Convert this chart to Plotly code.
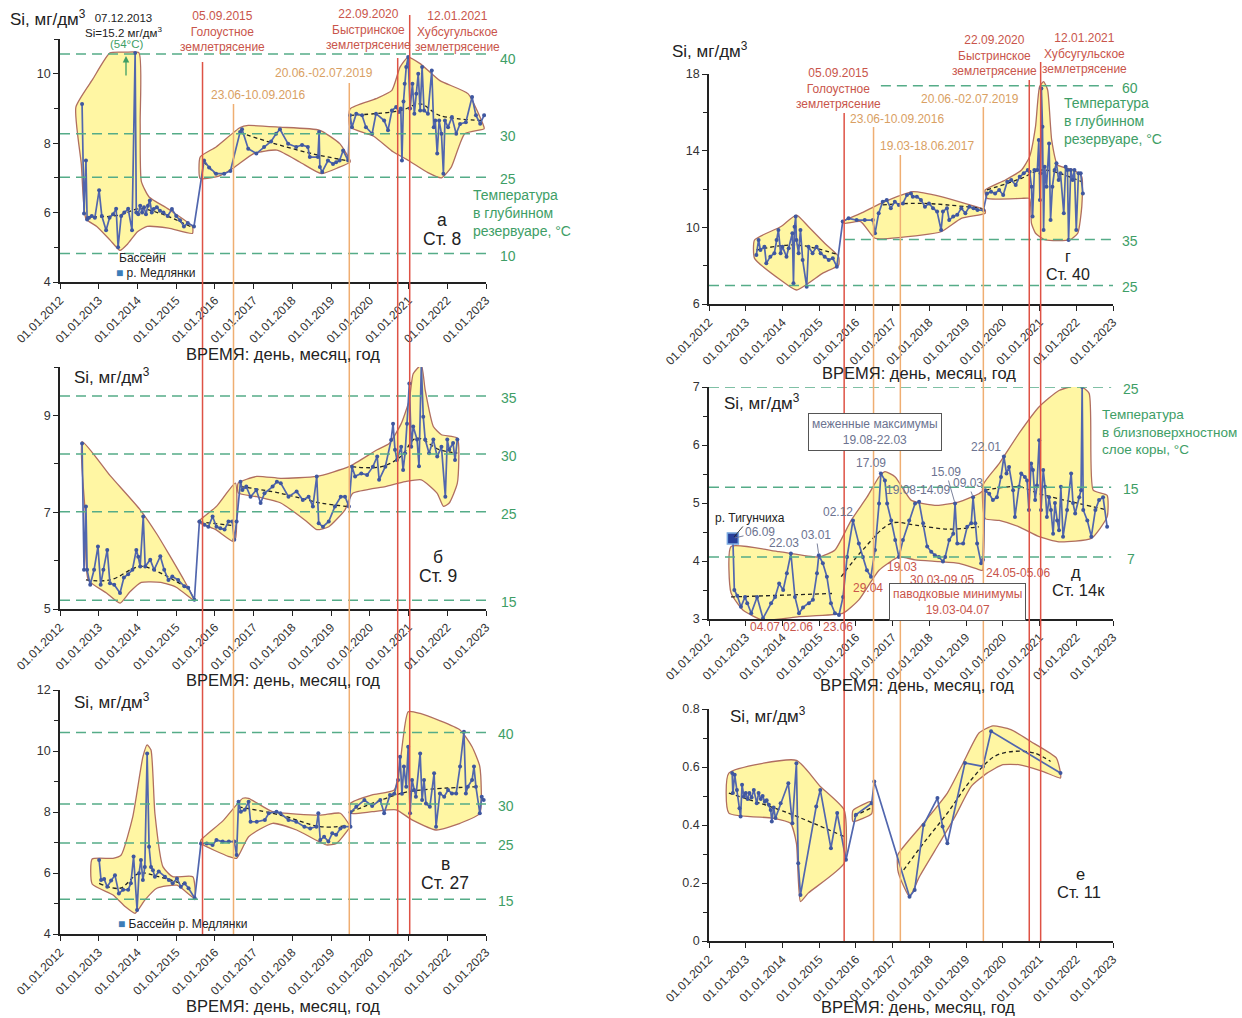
import plotly.graph_objects as go

W, H = 1242, 1018

# ---------------- common axis data ----------------
YEARS = list(range(2012, 2024))
YEAR_LABELS = [f"01.01.{y}" for y in YEARS]

# event dates (decimal years): 05.09.2015, 23.06.2016, 19.03.2017, 20.06.2019, 22.09.2020, 12.01.2021
EVENT_T = [2015.68, 2016.48, 2017.21, 2019.47, 2020.72, 2021.03]
EVENT_KIND = ["quake", "season", "season", "season", "quake", "quake"]

# ---------------- panel а (Ст. 8) ----------------
A1_T = [2012.57, 2012.62, 2012.67, 2012.70, 2012.75, 2012.82, 2012.9, 2013.01, 2013.08, 2013.19,
        2013.28, 2013.37, 2013.45, 2013.50, 2013.58, 2013.66, 2013.76, 2013.86, 2013.94, 2013.97,
        2014.02, 2014.07, 2014.12, 2014.17, 2014.22, 2014.27, 2014.32, 2014.37, 2014.42, 2014.5,
        2014.58, 2014.67, 2014.78, 2014.89, 2015.0, 2015.1, 2015.2, 2015.3, 2015.46]
A1_SI = [9.13, 5.97, 7.5, 5.8, 5.85, 5.9, 5.85, 6.64, 5.9, 5.49,
         5.85, 5.95, 6.11, 5.0, 5.9, 6.0, 6.11, 5.49, 10.6, 6.0,
         5.95, 6.2, 6.0, 6.15, 5.95, 6.2, 6.35, 6.0, 6.1, 6.15,
         6.05, 6.0, 5.9, 6.1, 5.9, 5.78, 5.6, 5.7, 5.6]
A2_T = [2015.72, 2015.85, 2016.03, 2016.24, 2016.4, 2016.65, 2016.7, 2016.86, 2017.07, 2017.27,
        2017.45, 2017.58, 2017.68, 2017.89, 2018.1, 2018.25, 2018.4, 2018.45, 2018.66, 2018.69,
        2018.71, 2018.77, 2018.92, 2019.05, 2019.13, 2019.22, 2019.31, 2019.44]
A2_SI = [7.5, 7.3, 7.12, 7.12, 7.2, 8.32, 8.4, 7.84, 7.7, 7.89,
         8.05, 8.27, 8.4, 7.98, 7.89, 7.95, 7.89, 7.6, 7.6, 8.32,
         7.31, 7.17, 7.5, 7.4, 7.45, 7.5, 7.79, 7.5]
A3_T = [2019.49, 2019.54, 2019.65, 2019.8, 2019.9, 2020.06, 2020.16, 2020.37, 2020.47, 2020.57,
        2020.68, 2020.75, 2020.8, 2020.83, 2020.87, 2020.9, 2020.94, 2020.99, 2021.04, 2021.1,
        2021.15, 2021.2, 2021.25, 2021.3, 2021.35, 2021.4, 2021.5, 2021.6, 2021.65, 2021.69,
        2021.74, 2021.79, 2021.85, 2021.9, 2021.94, 2022.02, 2022.12, 2022.23, 2022.33, 2022.48,
        2022.64, 2022.74, 2022.85, 2022.95]
A3_SI = [8.8, 8.46, 8.85, 8.8, 8.46, 8.27, 8.85, 8.65, 8.37, 8.94,
         9.04, 8.9, 9.0, 7.5, 9.2, 9.71, 10.19, 10.48, 9.0, 9.71,
         8.85, 9.42, 10.0, 8.94, 10.19, 8.94, 8.85, 10.09, 8.46, 8.65,
         7.7, 8.65, 8.27, 7.12, 8.65, 8.46, 8.75, 8.27, 8.55, 8.6,
         9.33, 8.8, 8.56, 8.8]
A_ENV = [
    ([2012.41, 2012.85, 2013.29, 2013.7, 2014.04, 2014.07, 2014.1, 2014.3, 2014.8, 2015.42],
     [9.04, 9.85, 10.6, 10.62, 10.6, 8.6, 6.9, 6.45, 6.1, 5.6],
     [2015.42, 2014.8, 2014.25, 2014.0, 2013.75, 2013.55, 2013.3, 2012.95, 2012.67, 2012.55],
     [5.4, 5.55, 5.6, 5.45, 5.1, 4.91, 5.2, 5.6, 5.82, 7.4]),
    ([2015.62, 2016.03, 2016.65, 2016.86, 2017.68, 2018.71, 2019.23, 2019.49],
     [7.6, 7.89, 8.45, 8.51, 8.46, 8.37, 7.98, 7.5],
     [2019.49, 2019.2, 2018.75, 2018.2, 2017.6, 2017.0, 2016.5, 2016.1, 2015.62],
     [7.45, 7.3, 7.12, 7.45, 7.8, 7.7, 7.3, 7.05, 6.98]),
    ([2019.49, 2020.16, 2020.57, 2020.78, 2020.99, 2021.3, 2021.81, 2022.54, 2022.95],
     [8.99, 9.28, 9.52, 10.19, 10.48, 10.29, 9.8, 9.42, 8.46],
     [2022.95, 2022.45, 2022.1, 2021.85, 2021.5, 2021.0, 2020.6, 2020.1, 2019.49],
     [8.41, 8.27, 7.3, 7.0, 7.15, 7.5, 7.75, 8.2, 8.46]),
]
A_TREND = [
    ([2012.67, 2013.5, 2014.05, 2014.6, 2015.4], [5.87, 5.92, 6.11, 5.97, 5.58]),
    ([2015.72, 2016.0], [7.45, 7.12]),
    ([2016.65, 2017.5, 2018.5, 2019.4], [8.3, 8.0, 7.7, 7.5]),
    ([2019.49, 2020.8, 2021.3, 2021.8, 2022.95], [8.8, 8.94, 9.13, 8.8, 8.65]),
]
A_TEMP_SI = [10.57, 8.27, 7.02, 4.82]
A_TEMP_LBL = ["40", "30", "25", "10"]

# ---------------- panel б (Ст. 9) ----------------
B1_T = [2012.57, 2012.62, 2012.67, 2012.7, 2012.78, 2012.88, 2012.98, 2013.05, 2013.12, 2013.22,
        2013.29, 2013.4, 2013.55, 2013.65, 2013.76, 2013.87, 2013.97, 2014.02, 2014.07, 2014.15,
        2014.2, 2014.33, 2014.43, 2014.59, 2014.69, 2014.8, 2014.9, 2015.05, 2015.21, 2015.31,
        2015.47]
B1_SI = [8.42, 5.81, 7.12, 5.81, 5.5, 5.81, 6.29, 5.5, 5.81, 6.22,
         5.53, 5.5, 5.33, 5.65, 5.72, 5.81, 6.22, 6.08, 5.88, 6.91,
         5.88, 6.02, 5.81, 6.09, 5.81, 5.6, 5.67, 5.6, 5.47, 5.44,
         5.19]
B2_T = [2015.6, 2015.73, 2015.83, 2015.94, 2016.04, 2016.14, 2016.25, 2016.35, 2016.45, 2016.5, 2016.56]
B2_SI = [6.81, 6.74, 6.7, 6.91, 6.7, 6.67, 6.64, 6.81, 6.81, 6.43, 6.81]
B3_T = [2016.66, 2016.71, 2016.81, 2016.92, 2017.07, 2017.18, 2017.28, 2017.49, 2017.6, 2017.7,
        2017.9, 2018.11, 2018.27, 2018.42, 2018.53, 2018.63, 2018.68, 2018.79, 2018.94, 2019.1,
        2019.25, 2019.36, 2019.46, 2019.54, 2019.62, 2019.78, 2019.93, 2020.08, 2020.19, 2020.24,
        2020.4, 2020.55, 2020.6, 2020.65, 2020.7, 2020.81, 2020.86, 2020.91, 2020.96, 2021.02,
        2021.07, 2021.12, 2021.22, 2021.27, 2021.33, 2021.38, 2021.43, 2021.53, 2021.64, 2021.74,
        2021.85, 2021.95, 2022.0, 2022.05, 2022.15, 2022.2, 2022.26]
B3_SI = [7.63, 7.46, 7.53, 7.32, 7.46, 7.19, 7.39, 7.53, 7.63, 7.6,
         7.32, 7.43, 7.25, 7.32, 7.12, 7.74, 6.77, 6.7, 6.81, 7.12,
         7.32, 7.32, 7.12, 7.94, 7.74, 7.8, 7.77, 7.94, 8.15, 7.67,
         7.94, 8.49, 8.83, 8.29, 8.08, 8.35, 7.87, 8.22, 8.83, 9.66,
         8.35, 8.77, 8.5, 7.95, 10.04, 8.97, 8.5, 8.22, 8.5, 8.15,
         8.35, 7.32, 8.5, 8.29, 8.43, 8.08, 8.5]
B_ENV = [
    ([2012.57, 2013.3, 2014.07, 2014.5, 2014.8, 2015.2, 2015.47],
     [8.46, 7.75, 7.05, 6.55, 6.15, 5.6, 5.19],
     [2015.47, 2015.0, 2014.6, 2014.1, 2013.8, 2013.55, 2013.2, 2012.73, 2012.65],
     [5.17, 5.45, 5.55, 5.55, 5.35, 5.12, 5.33, 5.6, 7.0]),
    ([2015.57, 2016.04, 2016.53],
     [6.81, 7.12, 7.6],
     [2016.53, 2016.46, 2016.0, 2015.57],
     [6.45, 6.4, 6.65, 6.79]),
    ([2016.6, 2017.08, 2017.7, 2018.63, 2019.46, 2020.19, 2020.5, 2020.81, 2021.02, 2021.12,
      2021.33, 2021.43, 2021.64, 2021.85, 2022.26],
     [7.6, 7.74, 7.7, 7.74, 7.94, 8.29, 8.42, 8.83, 9.32, 9.86,
      10.04, 9.52, 8.77, 8.6, 8.53],
     [2022.26, 2022.05, 2021.9, 2021.74, 2021.33, 2020.91, 2020.4, 2019.56, 2019.36, 2018.94,
      2018.63, 2018.32, 2017.7, 2017.08, 2016.6],
     [7.6, 7.19, 7.12, 7.39, 7.67, 7.63, 7.53, 7.39, 7.05, 6.7,
      6.64, 6.84, 7.19, 7.32, 7.4]),
]
B_TREND = [
    ([2012.67, 2013.3, 2014.07, 2014.6, 2015.35], [5.6, 5.6, 5.88, 5.74, 5.4]),
    ([2015.6, 2016.5], [6.8, 6.72]),
    ([2016.66, 2017.7, 2018.73, 2019.4], [7.53, 7.39, 7.19, 7.12]),
    ([2019.54, 2020.3, 2020.8, 2021.2, 2021.8, 2022.26], [7.94, 7.94, 8.15, 8.53, 8.29, 8.22]),
]
B_TEMP_SI = [9.4, 8.2, 7.01, 5.18]
B_TEMP_LBL = ["35", "30", "25", "15"]

# ---------------- panel в (Ст. 27) ----------------
C1_T = [2013.01, 2013.06, 2013.14, 2013.22, 2013.32, 2013.42, 2013.52, 2013.63, 2013.76, 2013.83,
        2013.9, 2013.99, 2014.04, 2014.09, 2014.14, 2014.19, 2014.25, 2014.3, 2014.35, 2014.4,
        2014.45, 2014.55, 2014.71, 2014.81, 2014.91, 2015.02, 2015.12, 2015.22, 2015.32, 2015.48]
C1_SI = [6.43, 5.77, 5.8, 5.55, 5.75, 5.93, 5.33, 5.45, 5.45, 5.66,
         6.54, 4.79, 5.99, 6.43, 5.77, 6.2, 9.92, 6.86, 6.2, 6.09,
         5.88, 6.05, 5.88, 5.77, 5.66, 5.82, 5.55, 5.66, 5.5, 5.17]
C2_T = [2015.64, 2015.79, 2015.94, 2016.04, 2016.2, 2016.36, 2016.5, 2016.56, 2016.61, 2016.67,
        2016.77, 2016.87, 2016.92, 2017.08, 2017.29, 2017.39, 2017.59, 2017.69, 2017.9, 2018.1,
        2018.31, 2018.46, 2018.62, 2018.67, 2018.72, 2018.82, 2018.93, 2019.03, 2019.13, 2019.24,
        2019.34, 2019.5]
C2_SI = [6.97, 6.97, 6.92, 7.08, 7.03, 7.03, 7.03, 6.59, 8.34, 8.01,
         8.07, 8.34, 7.68, 7.68, 7.74, 7.96, 8.01, 7.96, 7.74, 7.68,
         7.52, 7.46, 7.52, 7.96, 7.08, 7.19, 7.03, 7.3, 7.25, 7.46,
         7.52, 7.52]
C3_T = [2019.5, 2019.65, 2019.86, 2020.06, 2020.27, 2020.37, 2020.52, 2020.63, 2020.73, 2020.78,
        2020.83, 2020.88, 2020.94, 2020.99, 2021.04, 2021.09, 2021.14, 2021.19, 2021.3, 2021.35,
        2021.4, 2021.45, 2021.55, 2021.66, 2021.71, 2021.81, 2021.92, 2022.02, 2022.12, 2022.23,
        2022.33, 2022.43, 2022.48, 2022.53, 2022.64, 2022.69, 2022.74, 2022.84, 2022.89, 2022.94]
C3_SI = [7.99, 8.17, 8.39, 8.2, 8.39, 7.96, 8.56, 8.6, 9.05, 9.81,
         8.6, 9.49, 8.83, 10.14, 7.96, 9.05, 8.72, 8.5, 9.92, 8.39,
         9.05, 8.28, 8.17, 9.27, 7.52, 8.61, 8.5, 8.72, 8.61, 8.61,
         9.49, 10.63, 8.61, 8.83, 9.05, 9.49, 8.83, 7.96, 8.5, 8.39]
C_ENV = [
    ([2012.83, 2013.37, 2013.58, 2013.88, 2014.14, 2014.25, 2014.35, 2014.45, 2014.66, 2014.91, 2015.43],
     [6.46, 6.48, 6.59, 7.85, 9.81, 10.2, 10.03, 7.96, 6.2, 5.88, 5.88],
     [2015.48, 2015.02, 2014.5, 2014.19, 2013.94, 2013.68, 2013.37, 2012.83],
     [5.17, 5.6, 5.5, 5.11, 4.68, 4.9, 5.28, 5.64]),
    ([2015.64, 2016.2, 2016.72, 2016.87, 2017.49, 2018.72, 2019.24, 2019.5],
     [7.08, 7.7, 8.45, 8.45, 8.01, 7.9, 7.96, 7.52],
     [2019.5, 2019.14, 2018.88, 2018.11, 2017.49, 2016.87, 2016.56, 2016.36, 2015.64],
     [7.52, 6.97, 6.92, 7.41, 7.63, 7.19, 6.48, 6.54, 6.97]),
    ([2019.5, 2020.06, 2020.63, 2020.78, 2020.99, 2021.3, 2022.33, 2022.64, 2022.84],
     [8.28, 8.56, 8.72, 9.6, 11.29, 11.23, 10.69, 10.14, 9.49],
     [2022.84, 2022.33, 2021.71, 2021.09, 2020.68, 2020.06, 2019.5],
     [7.96, 7.63, 7.41, 7.74, 8.07, 8.01, 7.96]),
]
C_TREND = [
    ([2013.01, 2013.55, 2014.04, 2014.55, 2015.27], [5.66, 5.5, 5.99, 5.88, 5.6]),
    ([2016.61, 2017.69, 2018.72, 2019.4], [8.17, 7.9, 7.52, 7.55]),
    ([2019.5, 2020.78, 2021.3, 2022.84], [8.0, 8.6, 8.72, 8.83]),
]
C_TEMP_SI = [10.61, 8.26, 6.98, 5.14]
C_TEMP_LBL = ["40", "30", "25", "15"]

# ---------------- panel г (Ст. 40) ----------------
D1_T = [2013.29, 2013.35, 2013.4, 2013.51, 2013.56, 2013.67, 2013.78, 2013.84, 2013.89, 2013.95,
        2014.0, 2014.11, 2014.17, 2014.27, 2014.3, 2014.33, 2014.36, 2014.38, 2014.44, 2014.49,
        2014.55, 2014.66, 2014.71, 2014.82, 2014.93, 2015.04, 2015.15, 2015.26, 2015.37, 2015.48]
D1_SI = [8.56, 9.34, 8.82, 8.99, 8.12, 8.47, 8.65, 9.34, 9.86, 8.65,
         8.99, 8.47, 8.91, 9.69, 7.08, 10.03, 10.56, 9.34, 8.65, 9.86,
         8.3, 6.9, 8.99, 8.65, 8.99, 8.65, 8.47, 8.3, 8.39, 7.95]
D2_T = [2015.64, 2015.8, 2016.02, 2016.24, 2016.46, 2016.52, 2016.62, 2016.73, 2016.84, 2016.95,
        2017.06, 2017.17, 2017.28, 2017.39, 2017.5, 2017.55, 2017.66, 2017.77, 2017.88, 2017.99,
        2018.1, 2018.21, 2018.32, 2018.37, 2018.48, 2018.54, 2018.65, 2018.76, 2018.87, 2018.98,
        2019.09, 2019.2, 2019.31, 2019.47]
D2_SI = [10.3, 10.47, 10.38, 10.38, 10.38, 9.69, 10.73, 11.34, 11.43, 11.0,
         11.34, 11.17, 11.25, 11.69, 11.77, 11.6, 11.6, 11.43, 11.08, 11.25,
         11.0, 10.82, 9.86, 10.82, 11.0, 10.38, 10.56, 10.65, 11.0, 10.73,
         11.08, 11.0, 10.9, 10.9]
D3_T = [2019.57, 2019.68, 2019.79, 2019.9, 2020.01, 2020.12, 2020.23, 2020.35, 2020.46, 2020.57,
        2020.68, 2020.73, 2020.78, 2020.81, 2020.86, 2020.94, 2020.98, 2021.01, 2021.03, 2021.05,
        2021.08, 2021.11, 2021.14, 2021.19, 2021.26, 2021.3, 2021.35, 2021.41, 2021.46, 2021.52,
        2021.57, 2021.66, 2021.71, 2021.76, 2021.79, 2021.85, 2021.9, 2021.95, 2022.0, 2022.06,
        2022.12, 2022.18]
D3_SI = [11.77, 11.86, 11.77, 11.95, 11.69, 12.38, 12.47, 12.21, 12.64, 12.82,
         12.99, 12.9, 12.12, 10.56, 12.99, 12.99, 14.56, 11.43, 12.82, 17.25,
         15.25, 9.86, 13.16, 12.12, 14.38, 10.38, 12.12, 12.99, 13.34, 12.47,
         12.82, 10.73, 13.16, 12.99, 9.34, 12.99, 12.47, 12.99, 9.86, 12.82,
         12.82, 11.77]
D_ENV = [
    ([2013.24, 2013.95, 2014.38, 2014.71, 2015.15, 2015.53],
     [9.34, 10.03, 10.64, 10.03, 9.17, 8.47],
     [2015.53, 2015.09, 2014.38, 2013.95, 2013.24],
     [8.03, 7.6, 6.73, 7.25, 8.38]),
    ([2015.64, 2016.13, 2016.68, 2017.55, 2018.32, 2019.41, 2019.52],
     [10.3, 10.73, 11.25, 11.86, 11.6, 10.99, 10.9],
     [2019.52, 2018.87, 2018.32, 2017.23, 2016.52, 2016.13, 2015.69],
     [10.73, 10.47, 9.77, 9.48, 9.43, 10.3, 10.21]),
    ([2019.52, 2020.07, 2020.51, 2020.73, 2020.89, 2021.0, 2021.11, 2021.22, 2021.33, 2021.49, 2021.93, 2022.15],
     [11.95, 12.47, 12.99, 13.69, 15.25, 17.34, 17.6, 17.17, 14.56, 13.25, 12.99, 12.64],
     [2022.15, 2022.04, 2021.82, 2021.16, 2020.89, 2020.78, 2020.73, 2020.51, 2019.57, 2019.52],
     [11.08, 9.69, 9.34, 9.34, 9.69, 10.21, 11.51, 11.51, 11.51, 11.77]),
]
D_TREND = [
    ([2013.29, 2014.38, 2015.53], [8.82, 9.08, 8.56]),
    ([2016.73, 2017.82, 2019.42], [11.17, 11.25, 10.99]),
    ([2019.57, 2020.51, 2021.06, 2022.15], [11.95, 12.56, 12.99, 12.38]),
]
D_TEMP_SI = [17.39, 9.37, 6.97]
D_TEMP_LBL = ["60", "35", "25"]
D_TEMP_X0 = [2016.68, 2015.7, 2012.0]

# ---------------- panel д (Ст. 14к) ----------------
E1_T = [2012.65, 2012.69, 2012.77, 2012.87, 2012.98, 2013.04, 2013.15, 2013.31, 2013.47, 2013.69,
        2013.8, 2013.91, 2014.02, 2014.12, 2014.23, 2014.34, 2014.45, 2014.56, 2014.72, 2014.83,
        2014.94, 2014.99, 2015.1, 2015.21, 2015.32, 2015.43, 2015.54, 2015.65, 2015.76, 2015.92,
        2016.08, 2016.19, 2016.3, 2016.41, 2016.52, 2016.63, 2016.68, 2016.79, 2016.85, 2016.96,
        2017.07, 2017.17, 2017.28, 2017.45, 2017.61, 2017.72, 2017.83, 2017.94, 2018.05, 2018.15,
        2018.26, 2018.37, 2018.43, 2018.54, 2018.65, 2018.7, 2018.76, 2018.92, 2019.03, 2019.14,
        2019.19, 2019.25, 2019.3, 2019.41, 2019.46]
E1_SI = [4.39, 3.5, 3.4, 3.21, 3.38, 3.27, 3.1, 3.38, 3.01, 3.27,
         3.38, 3.61, 3.5, 3.79, 4.13, 3.38, 3.1, 3.2, 3.27, 3.33,
         3.79, 4.1, 3.96, 3.73, 3.27, 3.1, 3.07, 3.38, 4.07, 4.7,
         4.3, 4.07, 3.84, 3.73, 4.19, 4.99, 5.51, 5.39, 4.99, 4.7,
         4.36, 4.07, 4.36, 4.7, 4.99, 5.02, 4.65, 4.25, 4.16, 4.1,
         4.07, 3.99, 4.07, 4.36, 4.47, 4.99, 4.3, 4.3, 4.59, 4.65,
         5.1, 4.65, 4.3, 3.96, 4.02]
E2_T = [2019.52, 2019.63, 2019.73, 2019.84, 2019.95, 2020.03, 2020.1, 2020.17, 2020.28, 2020.33,
        2020.44, 2020.5, 2020.6, 2020.66, 2020.71, 2020.77, 2020.82, 2020.88, 2020.93, 2020.99,
        2021.04, 2021.1, 2021.15, 2021.2, 2021.26, 2021.31, 2021.37, 2021.42, 2021.48, 2021.53,
        2021.58, 2021.64, 2021.75, 2021.86, 2021.91, 2021.97, 2022.08, 2022.13, 2022.16, 2022.19,
        2022.3, 2022.41, 2022.52, 2022.62, 2022.73, 2022.84]
E2_SI = [5.22, 5.16, 5.05, 5.1, 5.45, 5.8, 5.51, 5.62, 5.22, 4.76,
         5.28, 5.51, 5.45, 5.39, 4.88, 5.68, 5.57, 5.05, 5.3, 6.08,
         4.88, 5.57, 5.28, 4.76, 5.1, 4.88, 4.47, 5.0, 4.7, 4.53,
         5.28, 4.42, 4.88, 5.51, 5.0, 4.82, 5.1, 5.22, 7.0, 4.88,
         4.7, 4.42, 4.88, 5.05, 5.1, 4.59]
E_ENV = [
    ([2012.6, 2013.91, 2014.99, 2015.43, 2015.87, 2016.3, 2016.63, 2016.79, 2017.07, 2017.5,
      2017.83, 2018.26, 2018.81, 2019.35, 2019.45],
     [4.25, 4.16, 4.07, 4.19, 4.7, 5.1, 5.45, 5.54, 5.45, 5.05,
      4.99, 4.96, 5.02, 5.16, 5.2],
     [2019.45, 2019.41, 2018.81, 2018.26, 2017.61, 2017.17, 2016.63, 2016.08, 2015.65, 2014.45,
      2013.47, 2012.93, 2012.6],
     [3.84, 3.84, 3.96, 3.99, 4.02, 4.07, 3.84, 3.33, 3.1, 3.04,
      2.98, 3.15, 3.45]),
    ([2019.46, 2019.9, 2020.44, 2020.99, 2021.53, 2022.08, 2022.35, 2022.46, 2022.84],
     [5.31, 5.68, 6.2, 6.66, 6.94, 7.03, 6.89, 5.22, 5.13],
     [2022.84, 2022.41, 2021.53, 2020.99, 2020.44, 2019.9, 2019.52],
     [4.76, 4.39, 4.33, 4.42, 4.59, 4.7, 4.73]),
]
E_TREND = [
    ([2012.6, 2015.35], [3.38, 3.44]),
    ([2015.6, 2016.2, 2016.96, 2017.6, 2018.5, 2019.35], [3.73, 4.2, 4.65, 4.62, 4.55, 4.59]),
    ([2019.52, 2020.44, 2020.99, 2022.08, 2022.84], [5.22, 5.28, 5.16, 4.99, 4.88]),
]
E_TEMP_SI = [7.0, 5.27, 4.07]
E_TEMP_LBL = ["25", "15", "7"]
# low-water maxima (gray labels with pointers) and flood minima (red labels)
E_MAX_LBL = ["06.09", "22.03", "03.01", "02.12", "17.09", "19.08-14.09", "15.09", "09.03", "22.01"]
E_MAX_T = [2012.65, 2014.23, 2014.99, 2015.92, 2016.68, 2017.72, 2018.7, 2019.19, 2020.03]
E_MAX_SI = [4.39, 4.13, 4.1, 4.7, 5.51, 5.02, 4.99, 5.1, 5.8]
E_MIN_LBL = ["04.07", "02.06", "23.06", "29.04", "19.03", "30.03-09.05", "24.05-05.06"]

# ---------------- panel е (Ст. 11) ----------------
F_T = [2012.63, 2012.65, 2012.7, 2012.76, 2012.83, 2012.86, 2012.9, 2012.95, 2013.0, 2013.05,
       2013.1, 2013.16, 2013.22, 2013.3, 2013.35, 2013.41, 2013.46, 2013.52, 2013.57, 2013.63,
       2013.68, 2013.71, 2013.76, 2013.81, 2013.95, 2014.16, 2014.27, 2014.38, 2014.43, 2014.49,
       2014.92, 2015.03, 2015.32, 2015.49, 2015.73, 2016.0, 2016.43, 2016.5, 2017.46, 2017.6,
       2017.84, 2018.22, 2018.36, 2018.49, 2018.97, 2019.46, 2019.68, 2021.57]
F_SI = [0.579, 0.51, 0.573, 0.521, 0.458, 0.429, 0.539, 0.498, 0.51, 0.49,
        0.51, 0.495, 0.521, 0.475, 0.51, 0.49, 0.5, 0.48, 0.485, 0.47,
        0.452, 0.412, 0.46, 0.424, 0.475, 0.544, 0.406, 0.613, 0.268, 0.159,
        0.464, 0.521, 0.32, 0.441, 0.28, 0.435, 0.475, 0.55, 0.153, 0.176,
        0.4, 0.493, 0.395, 0.337, 0.614, 0.602, 0.723, 0.579]
F_ENV = [
    ([2012.54, 2014.38, 2015.03, 2015.68],
     [0.579, 0.623, 0.533, 0.452],
     [2015.68, 2014.7, 2014.49, 2014.38, 2014.22, 2013.73, 2012.54],
     [0.268, 0.165, 0.136, 0.337, 0.406, 0.424, 0.441]),
    ([2015.92, 2016.43], [0.45, 0.481], [2016.43, 2015.92], [0.439, 0.412]),
    ([2017.14, 2017.84, 2018.49, 2018.92, 2019.35, 2019.73, 2020.22, 2020.76, 2021.46, 2021.57],
     [0.297, 0.406, 0.51, 0.614, 0.717, 0.742, 0.729, 0.688, 0.631, 0.579],
     [2021.57, 2021.08, 2020.43, 2020.0, 2019.57, 2019.14, 2018.7, 2018.27, 2017.73, 2017.46, 2017.19, 2017.14],
     [0.562, 0.585, 0.608, 0.608, 0.579, 0.533, 0.429, 0.337, 0.222, 0.153, 0.222, 0.245]),
]
F_TREND = [
    ([2012.54, 2014.16, 2015.68], [0.51, 0.441, 0.36]),
    ([2015.95, 2016.43], [0.43, 0.46]),
    ([2017.3, 2017.84, 2018.49, 2019.14, 2019.78, 2020.32, 2020.86, 2021.3],
     [0.245, 0.337, 0.441, 0.556, 0.637, 0.654, 0.648, 0.619]),
]

# ---------------- styling ----------------
YELLOW = "#FFF6A3"
BORDER = "#B06E60"
BLUE = "#5166AE"
GREEN = "#55AC88"
GREEN_TXT = "#3E9E66"
RED = "#DE5245"
RED_TXT = "#C9554B"
ORANGE = "#EFAE72"
ORANGE_TXT = "#D9A063"
GRAY_TXT = "#6C7390"
FONT = "Liberation Sans, Arial, sans-serif"


def fx(px):
    return px / W


def fy(py):
    return 1 - py / H


LX = (60, 486)
RX = (709, 1113)
PANELS = [
    dict(xd=LX, yd=(282, 39), yr=(4, 11), tv=[4, 6, 8, 10], mv=[5, 7, 9, 11]),
    dict(xd=LX, yd=(609, 367), yr=(5, 10), tv=[5, 7, 9], mv=[6, 8, 10]),
    dict(xd=LX, yd=(934, 690), yr=(4, 12), tv=[4, 6, 8, 10, 12], mv=[5, 7, 9, 11]),
    dict(xd=RX, yd=(304, 74), yr=(6, 18), tv=[6, 10, 14, 18], mv=[8, 12, 16]),
    dict(xd=RX, yd=(619, 387), yr=(3, 7), tv=[3, 4, 5, 6, 7], mv=[3.5, 4.5, 5.5, 6.5]),
    dict(xd=RX, yd=(941, 709), yr=(0, 0.8), tv=[0, 0.2, 0.4, 0.6, 0.8], mv=[0.1, 0.3, 0.5, 0.7]),
]

fig = go.Figure()
layout = dict(width=W, height=H, margin=dict(l=0, r=0, t=0, b=0, autoexpand=False), autosize=False,
              paper_bgcolor="white", plot_bgcolor="white", showlegend=False,
              font=dict(family=FONT, color="#222"))

for i, p in enumerate(PANELS, start=1):
    sfx = "" if i == 1 else str(i)
    layout["xaxis" + sfx] = dict(
        domain=[fx(p["xd"][0]), fx(p["xd"][1])], range=[2012, 2023], anchor="y" + sfx,
        tickvals=YEARS, ticktext=YEAR_LABELS, tickangle=-45, ticks="outside", ticklen=5,
        tickcolor="#222", showline=True, linecolor="#222", linewidth=1.5, showgrid=False,
        zeroline=False, tickfont=dict(size=12, color="#333", family=FONT), fixedrange=True,
        automargin=False)
    layout["yaxis" + sfx] = dict(
        domain=[fy(p["yd"][0]), fy(p["yd"][1])], range=list(p["yr"]), anchor="x" + sfx,
        tickvals=p["tv"], ticks="outside", ticklen=5, tickcolor="#222", showline=True,
        linecolor="#222", linewidth=1.5, showgrid=False, zeroline=False,
        minor=dict(tickvals=p["mv"], ticks="outside", ticklen=4, tickcolor="#222"),
        tickfont=dict(size=12.5, color="#333", family=FONT), fixedrange=True, automargin=False)


def axes(i):
    return ("x", "y") if i == 1 else ("x" + str(i), "y" + str(i))


def add_env(envs, i):
    xa, ya = axes(i)
    for ut, uv, lt, lv in envs:
        xs = ut + lt + [ut[0]]
        ys = uv + lv + [uv[0]]
        fig.add_trace(go.Scatter(x=xs, y=ys, mode="lines", fill="toself", fillcolor=YELLOW,
                                 line=dict(color=BORDER, width=1.3, shape="spline", smoothing=0.5),
                                 xaxis=xa, yaxis=ya, hoverinfo="skip"))


def add_trend(trends, i):
    xa, ya = axes(i)
    for tt, tv in trends:
        fig.add_trace(go.Scatter(x=tt, y=tv, mode="lines",
                                 line=dict(color="#222", width=1.3, dash="4px,3px", shape="spline"),
                                 xaxis=xa, yaxis=ya, hoverinfo="skip"))


def add_data(t, v, i):
    xa, ya = axes(i)
    fig.add_trace(go.Scatter(x=t, y=v, mode="lines+markers",
                             line=dict(color=BLUE, width=1.7),
                             marker=dict(size=4, color="#3F57A0"),
                             xaxis=xa, yaxis=ya))


for envs, k in [(A_ENV, 1), (B_ENV, 2), (C_ENV, 3), (D_ENV, 4), (E_ENV, 5), (F_ENV, 6)]:
    add_env(envs, k)
for trs, k in [(A_TREND, 1), (B_TREND, 2), (C_TREND, 3), (D_TREND, 4), (E_TREND, 5), (F_TREND, 6)]:
    add_trend(trs, k)
add_data(A1_T + A2_T + A3_T, A1_SI + A2_SI + A3_SI, 1)
add_data(B1_T + B2_T + B3_T, B1_SI + B2_SI + B3_SI, 2)
add_data(C1_T + C2_T + C3_T, C1_SI + C2_SI + C3_SI, 3)
add_data(D1_T + D2_T + D3_T, D1_SI + D2_SI + D3_SI, 4)
add_data(E1_T + E2_T, E1_SI + E2_SI, 5)
add_data(F_T, F_SI, 6)

# Tigunchikha river marker in panel д
fig.add_trace(go.Scatter(x=[E1_T[0]], y=[E1_SI[0]], mode="markers", xaxis="x5", yaxis="y5",
                         marker=dict(symbol="square", size=11, color="#27409A",
                                     line=dict(color="#78A8E0", width=1.5))))

shapes = []
annotations = []


def temp_lines(levels, labels, i, x0s=None, x1=2023.05, lbl_px=506, shifts=None):
    xa, ya = axes(i)
    for k, (lv, lb) in enumerate(zip(levels, labels)):
        x0 = 2012 if x0s is None else x0s[k]
        ysh = -2 if shifts is None else shifts[k]
        shapes.append(dict(type="line", xref=xa, yref=ya, x0=x0, x1=x1, y0=lv, y1=lv,
                           line=dict(color=GREEN, width=1.5, dash="10px,6px"), layer="above"))
        annotations.append(dict(text=lb, xref="paper", yref=ya, x=fx(lbl_px), y=lv, yshift=ysh,
                                showarrow=False, xanchor="center", yanchor="middle",
                                font=dict(size=14, color=GREEN_TXT, family=FONT)))


temp_lines(A_TEMP_SI, A_TEMP_LBL, 1, lbl_px=508, shifts=[-5, -2, -2, -2])
temp_lines(B_TEMP_SI, B_TEMP_LBL, 2, lbl_px=509)
temp_lines(C_TEMP_SI, C_TEMP_LBL, 3)
temp_lines(D_TEMP_SI, D_TEMP_LBL, 4, x0s=D_TEMP_X0, x1=2023.0, lbl_px=1130)
temp_lines(E_TEMP_SI, E_TEMP_LBL, 5, x1=2022.95, lbl_px=1131)

LEFT_TOPS = {2015.68: 62, 2016.48: 104, 2019.47: 83, 2020.72: 58, 2021.03: 15}
RIGHT_TOPS = {2015.68: 113, 2016.48: 127, 2017.21: 155, 2019.47: 107, 2020.72: 80, 2021.03: 62}
for t, kind in zip(EVENT_T, EVENT_KIND):
    col = RED if kind == "quake" else ORANGE
    if t in LEFT_TOPS:
        shapes.append(dict(type="line", xref="x", yref="paper", x0=t, x1=t,
                           y0=fy(934), y1=fy(LEFT_TOPS[t]), line=dict(color=col, width=1.5), layer="above"))
    shapes.append(dict(type="line", xref="x4", yref="paper", x0=t, x1=t,
                       y0=fy(941), y1=fy(RIGHT_TOPS[t]), line=dict(color=col, width=1.5), layer="above"))


def ann(text, px, py, color="#222", size=12, xanchor="center", align="center", **kw):
    d = dict(text=text, xref="paper", yref="paper", x=fx(px), y=fy(py), showarrow=False,
             xanchor=xanchor, yanchor="middle", align=align,
             font=dict(size=size, color=color, family=FONT))
    d.update(kw)
    annotations.append(d)


SI_LBL = "Si, мг/дм<sup>3</sup>"
XT = "ВРЕМЯ: день, месяц, год"
TEMP_DEEP = "Температура<br>в глубинном<br>резервуаре, °C"
Q1 = "05.09.2015<br>Голоустное<br>землетрясение"
Q2 = "22.09.2020<br>Быстринское<br>землетрясение"
Q3 = "12.01.2021<br>Хубсугульское<br>землетрясение"

# panel а
ann(SI_LBL, 8, 18, size=17, xanchor="left")
ann("07.12.2013<br>Si=15.2 мг/дм<sup>3</sup>", 123, 25, size=11.5)
ann("(54°C)", 127, 44, color=GREEN_TXT, size=11.5)
annotations.append(dict(text="", xref="paper", yref="paper", x=fx(126), y=fy(56), ax=0, ay=21,
                        showarrow=True, arrowhead=2, arrowsize=1, arrowwidth=1.3, arrowcolor=GREEN_TXT))
ann(Q1, 222, 32, color=RED_TXT, size=12)
ann(Q2, 368, 30, color=RED_TXT, size=12)
ann(Q3, 458, 32, color=RED_TXT, size=12)
ann("23.06-10.09.2016", 258, 95, color=ORANGE_TXT, size=12)
ann("20.06.-02.07.2019", 324, 73, color=ORANGE_TXT, size=12)
ann(TEMP_DEEP, 471, 213, color=GREEN_TXT, size=14, xanchor="left", align="left")
ann("а", 442, 220, size=17.5)
ann("Ст. 8", 442, 239, size=17.5)
ann("Бассейн", 142, 258, size=12)
ann("<span style='color:#3C7DB8'>■</span> р. Медлянки", 156, 273, size=12)
ann(XT, 283, 354, size=16.5)

# panel б
ann(SI_LBL, 72, 376, size=17, xanchor="left")
ann("б", 438, 557, size=17.5)
ann("Ст. 9", 438, 576, size=17.5)
ann(XT, 283, 680, size=16.5)

# panel в
ann(SI_LBL, 72, 701, size=17, xanchor="left")
ann("в", 445, 864, size=17.5)
ann("Ст. 27", 445, 883, size=17.5)
ann("<span style='color:#3C7DB8'>■</span> Бассейн р. Медлянки", 182, 924, size=12)
ann(XT, 283, 1006, size=16.5)

# panel г
ann(SI_LBL, 670, 50, size=17, xanchor="left")
ann(Q1, 838, 88, color=RED_TXT, size=12)
ann(Q2, 994, 55, color=RED_TXT, size=12)
ann(Q3, 1084, 53, color=RED_TXT, size=12)
ann("23.06-10.09.2016", 897, 119, color=ORANGE_TXT, size=12)
ann("19.03-18.06.2017", 927, 146, color=ORANGE_TXT, size=12)
ann("20.06.-02.07.2019", 970, 99, color=ORANGE_TXT, size=12)
ann(TEMP_DEEP, 1062, 121, color=GREEN_TXT, size=14, xanchor="left", align="left")
ann("г", 1068, 256, size=16)
ann("Ст. 40", 1068, 275, size=16)
ann(XT, 919, 373, size=16.5)

# panel д
ann(SI_LBL, 722, 402, size=17, xanchor="left")
ann("Температура<br>в близповерхностном<br>слое коры, °C", 1100, 432, color=GREEN_TXT, size=13.5,
    xanchor="left", align="left")


# pixel scale of panel д, used only to offset labels from their data points
def d_px(t, v):
    return (RX[0] + (t - 2012) * (RX[1] - RX[0]) / 11.0, 619 - (v - 3) * (619 - 387) / 4.0)


def pointer(text, t, v, lx, ly, color, line=True):
    if not line:
        ann(text, lx, ly, color=color, size=12)
        return
    px, py = d_px(t, v)
    annotations.append(dict(text=text, xref="x5", yref="y5", x=t, y=v, ax=lx - px, ay=ly - py,
                            showarrow=True, arrowhead=0, arrowwidth=0.9, arrowcolor=color, standoff=2,
                            font=dict(size=12, color=color, family=FONT)))


pointer("р. Тигунчиха", E1_T[0], E1_SI[0], 750, 518, "#222")
E_MAX_PX = [(760, 532), (784, 543), (816, 535), (838, 512), (871, 463), (918, 490), (946, 472), (968, 483), (986, 447)]
E_MAX_PTR = [True, False, True, True, True, False, True, True, True]
for lb, t, v, (lx, ly), ptr in zip(E_MAX_LBL, E_MAX_T, E_MAX_SI, E_MAX_PX, E_MAX_PTR):
    pointer(lb, t, v, lx, ly, GRAY_TXT, ptr)
E_MIN_PX = [(765, 627), (798, 627), (838, 627), (868, 588), (902, 567), (942, 580), (1018, 573)]
for lb, (px, py) in zip(E_MIN_LBL, E_MIN_PX):
    ann(lb, px, py, color=RED_TXT, size=12)
ann("меженные максимумы<br>19.08-22.03", 875, 432, color=GRAY_TXT, size=12,
    bordercolor="#555", borderwidth=1, borderpad=3, bgcolor="white")
ann("паводковые минимумы<br>19.03-04.07", 957, 602, color=RED_TXT, size=12,
    bordercolor="#555", borderwidth=1, borderpad=3, bgcolor="white")
ann("д", 1076, 572, size=16.5)
ann("Ст. 14к", 1078, 590, size=16.5)
ann(XT, 917, 685, size=16.5)

# panel е
ann(SI_LBL, 728, 715, size=17, xanchor="left")
ann("е", 1080, 874, size=16.5)
ann("Ст. 11", 1079, 892, size=16.5)
ann(XT, 918, 1007, size=16.5)

layout["shapes"] = shapes
layout["annotations"] = annotations
fig.update_layout(**layout)
fig.write_html("out.html")
